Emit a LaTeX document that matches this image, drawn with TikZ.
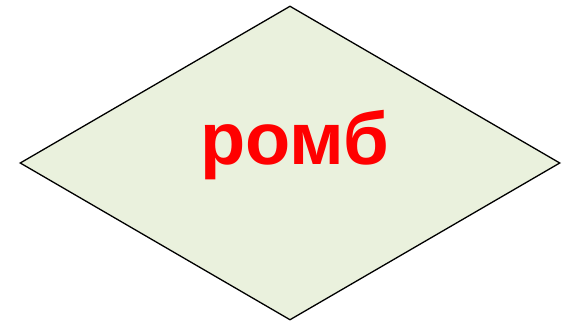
\documentclass[tikz,border=0pt]{standalone}
\usepackage{fontspec}
\setmainfont{Liberation Sans}
\usepackage{tikz}
\usetikzlibrary{shapes.geometric}
\definecolor{rombfill}{HTML}{EAF1DD}
\definecolor{rombred}{HTML}{FF0000}

\begin{document}
\begin{tikzpicture}[x=1pt,y=1pt,
  rombshape/.style={draw=black,fill=rombfill,shape=diamond,line width=1.3pt,
    minimum width=540pt,minimum height=314pt,inner sep=0pt},
  rombtext/.style={text=rombred,font=\fontsize{74}{76}\selectfont\bfseries,
    inner sep=0pt,anchor=base}]
\useasboundingbox (0,0) rectangle (569,324);
\node[rombshape] (romb) at (290,161) {};
\node[rombtext] (label) at (294.5,159) {ромб};
\end{tikzpicture}
\end{document}
